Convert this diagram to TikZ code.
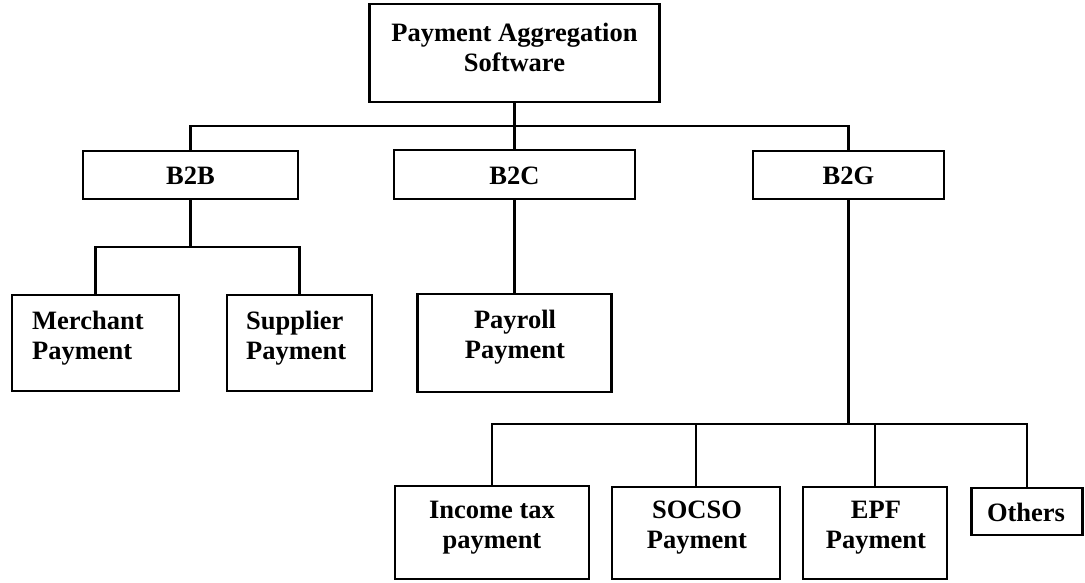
\documentclass[tikz,border=0pt]{standalone}
\usepackage{fontspec}
\setmainfont{Liberation Serif}
\begin{document}
\begin{tikzpicture}[x=1pt,y=-1pt,
  box/.style={draw=black, line width=2.9pt, rectangle, inner sep=0pt, outer sep=0pt},
  lbl/.style={inner sep=0pt, font=\fontsize{26.5}{30}\selectfont\bfseries},
  link/.style={draw=black, line width=2.8pt, line cap=rect}]
\useasboundingbox[fill=white] (0,0) rectangle (1085,582);

% boxes
\node[box, minimum width=290pt, minimum height=98pt] (top) at (514.5,53) {};
\node[box, minimum width=215pt, minimum height=48pt] (b2b) at (190.5,175) {};
\node[box, minimum width=241pt, minimum height=49pt] (b2c) at (514.5,174.5) {};
\node[box, minimum width=191pt, minimum height=48pt] (b2g) at (848.5,175) {};
\node[box, minimum width=167pt, minimum height=96pt] (merchant) at (95.5,343) {};
\node[box, minimum width=145pt, minimum height=96pt] (supplier) at (299.5,343) {};
\node[box, minimum width=194pt, minimum height=98pt] (payroll) at (514.5,343) {};
\node[box, minimum width=194pt, minimum height=93pt] (income) at (492,532.5) {};
\node[box, minimum width=168pt, minimum height=92pt] (socso) at (696,533) {};
\node[box, minimum width=144pt, minimum height=92pt] (epf) at (875,533) {};
\node[box, minimum width=111pt, minimum height=47pt] (others) at (1027,511.5) {};

% labels
\node[lbl, align=center] (top-t) at (514.5,47) {Payment Aggregation\\Software};
\node[lbl] (b2b-t) at (190.5,176) {B2B};
\node[lbl] (b2c-t) at (514.5,176) {B2C};
\node[lbl] (b2g-t) at (848.5,176) {B2G};
\node[lbl, align=left, anchor=west] (merchant-t) at (32,338) {Merchant\\Payment};
\node[lbl, align=left, anchor=west] (supplier-t) at (246,338) {Supplier\\Payment};
\node[lbl, align=center] (payroll-t) at (515,337) {Payroll\\Payment};
\node[lbl, align=center] (income-t) at (492,528) {Income tax\\payment};
\node[lbl, align=center] (socso-t) at (697,528) {SOCSO\\Payment};
\node[lbl, align=center] (epf-t) at (876,528) {EPF\\Payment};
\node[lbl] (others-t) at (1026,512) {Others};

% connectors
\coordinate (bus1) at (514.5,126);
\coordinate (bus2) at (190.5,247);
\coordinate (bus3) at (848.5,424);
\draw[link] (top.south) -- (bus1) -| (b2b.north);
\draw[link] (bus1) -| (b2g.north);
\draw[link] (bus1) -- (b2c.north);
\draw[link] (b2b.south) -- (bus2) -| (merchant.north);
\draw[link] (bus2) -| (supplier.north);
\draw[link] (b2c.south) -- (payroll.north);
\draw[link] (b2g.south) -- (bus3) -| (income.north);
\draw[link] (bus3) -| (others.north);
\draw[link] (socso.north) -- (socso.north |- bus3);
\draw[link] (epf.north) -- (epf.north |- bus3);
\end{tikzpicture}
\end{document}
